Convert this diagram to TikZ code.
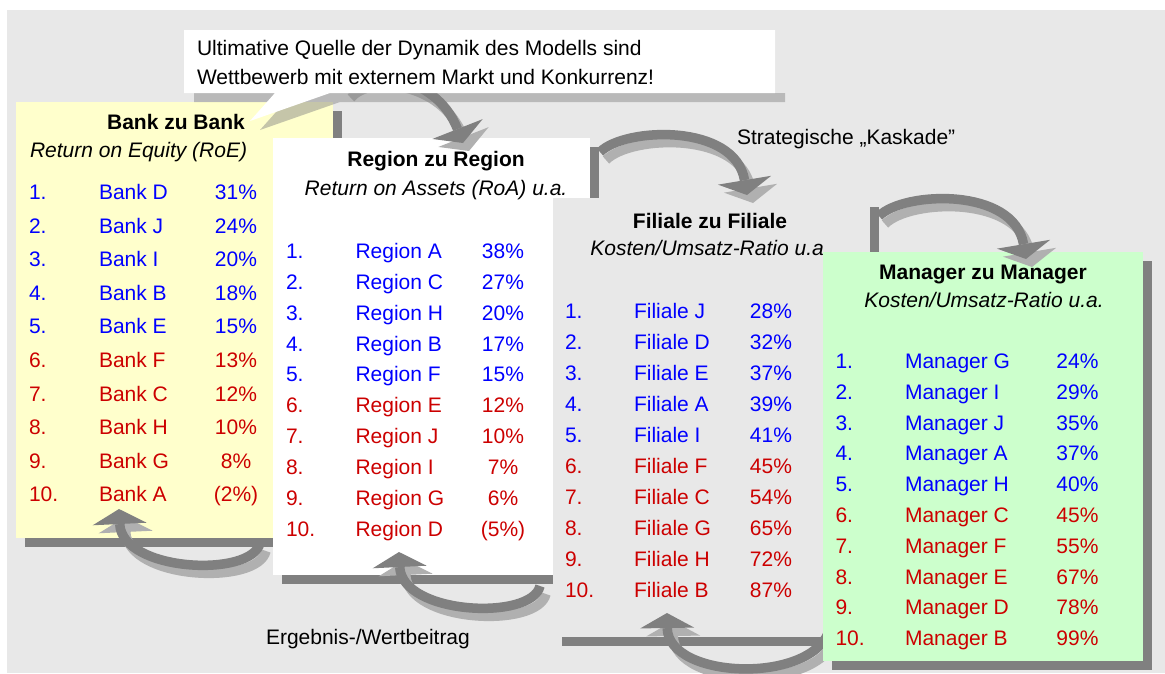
\documentclass[tikz,border=0pt]{standalone}
\usepackage{fontspec}
\setmainfont{Liberation Sans}
\usetikzlibrary{arrows.meta,shadows}
\definecolor{bgGray}{HTML}{E8E8E8}
\definecolor{shd}{HTML}{808080}
\definecolor{sideGray}{HTML}{B0B0B0}
\definecolor{cardYellow}{HTML}{FFFFCC}
\definecolor{cardGreen}{HTML}{CCFFCC}
\definecolor{txtBlue}{HTML}{0000FF}
\definecolor{txtRed}{HTML}{CC0000}
\tikzset{
  txt/.style={inner sep=0pt, outer sep=0pt, font=\fontsize{21}{25}\selectfont},
  ttl/.style={txt, font=\fontsize{21}{25}\selectfont\bfseries, anchor=base},
  subt/.style={txt, font=\fontsize{21}{25}\selectfont\itshape, anchor=base},
  cardbox/.style={draw=none, rectangle, inner sep=0pt, anchor=north west,
    general shadow={fill=shd, shadow xshift=9pt, shadow yshift=-9pt}},
  flow/.style={draw=shd, line width=9.5pt, -{Triangle[width=54pt,length=15pt,line width=0pt]}},
  flowside/.style={draw=sideGray, line width=9.5pt, -{Triangle[width=54pt,length=15pt,line width=0pt]}},
}
\newcommand{\casc}[4]{%
  \draw[flowside] ([shift={(6,8)}]#1) .. controls +#2 and +#3 .. ([shift={(6,8)}]#4);
  \draw[flow] (#1) .. controls +#2 and +#3 .. (#4);
}
\begin{document}
\begin{tikzpicture}[x=1pt,y=-1pt]
\useasboundingbox (0,0) rectangle (1165,673);
\fill[bgGray] (7,10) rectangle (1165,673);

% ---------- Bank card
\node[cardbox, fill=cardYellow, minimum width=317pt, minimum height=436pt] (bank) at (16,102) {};
\node[ttl] (bt) at (176,129.5) {Bank zu Bank};
\node[subt, anchor=base west] (bs) at (30,157) {Return on Equity (RoE)};
\foreach \nm/\pc [count=\i] in {Bank D/31\%, Bank J/24\%, Bank I/20\%, Bank B/18\%, Bank E/15\%,
  Bank F/13\%, Bank C/12\%, Bank H/10\%, Bank G/8\%, Bank A/(2\%)} {
  \ifnum\i<6 \def\rc{txtBlue}\else\def\rc{txtRed}\fi
  \node[txt, anchor=base west, text=\rc] (bn\i) at (29, {199.5+33.6*(\i-1)}) {\i.};
  \node[txt, anchor=base west, text=\rc] (bb\i) at (99, {199.5+33.6*(\i-1)}) {\nm};
  \node[txt, anchor=base, text=\rc] (bp\i) at (236, {199.5+33.6*(\i-1)}) {\pc};
}

% ---------- Region card
\node[cardbox, fill=white, minimum width=317pt, minimum height=437pt] (region) at (273,138) {};
\node[ttl] (rt) at (436,166.7) {Region zu Region};
\node[subt] (rs) at (436,195) {Return on Assets (RoA) u.a.};
\foreach \nm/\pc [count=\i] in {Region A/38\%, Region C/27\%, Region H/20\%, Region B/17\%, Region F/15\%,
  Region E/12\%, Region J/10\%, Region I/7\%, Region G/6\%, Region D/(5\%)} {
  \ifnum\i<6 \def\rc{txtBlue}\else\def\rc{txtRed}\fi
  \node[txt, anchor=base west, text=\rc] (rn\i) at (286, {258.3+30.9*(\i-1)}) {\i.};
  \node[txt, anchor=base west, text=\rc] (rb\i) at (355.5, {258.3+30.9*(\i-1)}) {\nm};
  \node[txt, anchor=base, text=\rc] (rp\i) at (503, {258.3+30.9*(\i-1)}) {\pc};
}

% ---------- Filiale card
\node[cardbox, fill=bgGray, minimum width=317pt, minimum height=439pt] (filiale) at (553,198) {};
\node[ttl] (ft) at (710,228) {Filiale zu Filiale};
\node[subt] (fs) at (710,255) {Kosten/Umsatz-Ratio u.a.};
\foreach \nm/\pc [count=\i] in {Filiale J/28\%, Filiale D/32\%, Filiale E/37\%, Filiale A/39\%, Filiale I/41\%,
  Filiale F/45\%, Filiale C/54\%, Filiale G/65\%, Filiale H/72\%, Filiale B/87\%} {
  \ifnum\i<6 \def\rc{txtBlue}\else\def\rc{txtRed}\fi
  \node[txt, anchor=base west, text=\rc] (fn\i) at (565, {318.5+31*(\i-1)}) {\i.};
  \node[txt, anchor=base west, text=\rc] (fb\i) at (634, {318.5+31*(\i-1)}) {\nm};
  \node[txt, anchor=base, text=\rc] (fp\i) at (771, {318.5+31*(\i-1)}) {\pc};
}

% ---------- arrow Manager -> Filiale (behind manager card)
\coordinate (b3s) at (830,628);
\coordinate (b3e) at (667,613);
\casc{b3s}{(-15,57)}{(1,67)}{b3e}

% ---------- Manager card
\node[cardbox, fill=cardGreen, minimum width=320pt, minimum height=409pt] (manager) at (823,252) {};
\node[ttl] (mt) at (983,279.5) {Manager zu Manager};
\node[subt] (ms) at (984,307.5) {Kosten/Umsatz-Ratio u.a.};
\foreach \nm/\pc [count=\i] in {Manager G/24\%, Manager I/29\%, Manager J/35\%, Manager A/37\%, Manager H/40\%,
  Manager C/45\%, Manager F/55\%, Manager E/67\%, Manager D/78\%, Manager B/99\%} {
  \ifnum\i<6 \def\rc{txtBlue}\else\def\rc{txtRed}\fi
  \node[txt, anchor=base west, text=\rc] (mn\i) at (835.5, {368.5+30.8*(\i-1)}) {\i.};
  \node[txt, anchor=base west, text=\rc] (mb\i) at (905, {368.5+30.8*(\i-1)}) {\nm};
  \node[txt, anchor=base, text=\rc] (mp\i) at (1077.5, {368.5+30.8*(\i-1)}) {\pc};
}

% ---------- cascade arrows (top)
\coordinate (a1s) at (345,90);   \coordinate (a1e) at (463,143);
\coordinate (a2s) at (600,152);  \coordinate (a2e) at (747,195);
\coordinate (a3s) at (879,216);  \coordinate (a3e) at (1026,259);
\casc{a1s}{(17,-22)}{(-28,-71)}{a1e}
\casc{a2s}{(25,-25)}{(-12,-72)}{a2e}
\casc{a3s}{(25,-25)}{(-12,-72)}{a3e}

% ---------- return arrows (bottom)
\coordinate (b1s) at (260,543);  \coordinate (b1e) at (119,509);
\coordinate (b2s) at (540,586);  \coordinate (b2e) at (399,552);
\casc{b1s}{(-8,35)}{(3,63)}{b1e}
\casc{b2s}{(-8,35)}{(3,63)}{b2e}

% ---------- callout
\fill[shd, fill opacity=0.45] (194,93) -- (785,93) -- (785,102) -- (340,102) -- (260,130) -- (285,102) -- (194,102) -- cycle;
\fill[white] (184,30) -- (775,30) -- (775,93) -- (330,93) -- (250,121) -- (275,93) -- (184,93) -- cycle;
\node[txt, anchor=base west] (ct1) at (197,55) {Ultimative Quelle der Dynamik des Modells sind};
\node[txt, anchor=base west] (ct2) at (197,84) {Wettbewerb mit externem Markt und Konkurrenz!};

% ---------- labels
\node[txt, anchor=base west] (kask) at (737,144) {Strategische „Kaskade”};
\node[txt, anchor=base west] (ergeb) at (266,644) {Ergebnis-/Wertbeitrag};
\end{tikzpicture}
\end{document}
